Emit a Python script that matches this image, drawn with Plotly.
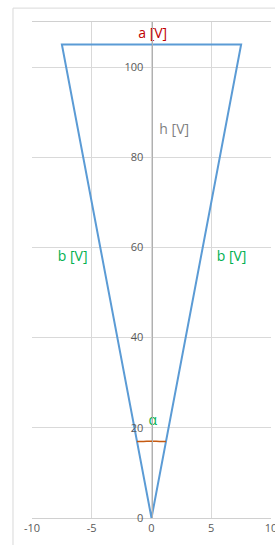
import plotly.graph_objects as go

# Triangle outline (apex at origin)
tri_x = [0, -7.5, 7.5, 0]
tri_y = [0, 105, 105, 0]

# Angle arc near apex
arc_x = [-1.21, -0.8, -0.4, 0.0, 0.4, 0.8, 1.21]
arc_y = [16.96, 16.98, 17.0, 17.0, 17.0, 16.98, 16.96]

# Text labels
lbl_text = ["a [V]", "h [V]", "b [V]", "b [V]", "α"]
lbl_x = [0.1, 1.9, -6.6, 6.7, 0.1]
lbl_y = [107.3, 86.0, 57.8, 57.8, 21.3]
lbl_color = ["#C00000", "#7F7F7F", "#00B050", "#00B050", "#00B050"]

x_ticks = [-10, -5, 0, 5, 10]
x_ticktext = ["-10", "-5", "0", "5", "10"]
y_ticks = [0, 20, 40, 60, 80, 100]
y_ticktext = ["0", "20", "40", "60", "80", "100"]

fig = go.Figure()
fig.add_trace(go.Scatter(x=tri_x, y=tri_y, mode="lines",
                         line=dict(color="#5B9BD5", width=2), hoverinfo="skip"))
fig.add_trace(go.Scatter(x=arc_x, y=arc_y, mode="lines",
                         line=dict(color="#C55A11", width=1.5, shape="spline"), hoverinfo="skip"))
fig.add_trace(go.Scatter(x=lbl_x, y=lbl_y, mode="text", text=lbl_text,
                         textfont=dict(color=lbl_color, size=14, family="Open Sans"),
                         hoverinfo="skip"))

fig.update_layout(
    width=275, height=545,
    margin=dict(l=32, r=4, t=22, b=27, autoexpand=False),
    paper_bgcolor="white", plot_bgcolor="white",
    showlegend=False,
    font=dict(family="Open Sans", color="#595959", size=11),
    xaxis=dict(range=[-10, 10], tickvals=x_ticks, ticktext=x_ticktext, showgrid=True,
               gridcolor="#D9D9D9", gridwidth=1, zeroline=False, showline=True,
               linecolor="#D0D0D0", mirror=True, ticks="", automargin=False,
               ticklabeloverflow="allow",
               tickfont=dict(size=11, color="#595959")),
    yaxis=dict(range=[0, 110], tickvals=y_ticks, ticktext=y_ticktext, showgrid=True,
               gridcolor="#D9D9D9", gridwidth=1, zeroline=False, showline=True,
               linecolor="#B0B0B0", anchor="free", position=0.5, ticks="outside",
               ticklen=6, automargin=False, tickcolor="rgba(0,0,0,0)",
               tickfont=dict(size=11, color="#595959")),
)

# Outer chart border
fig.add_shape(type="rect", xref="paper", yref="paper",
              x0=-0.0795, y0=-0.06, x1=1.03, y1=1.028,
              line=dict(color="#D9D9D9", width=1), fillcolor="rgba(0,0,0,0)", layer="below")

fig.write_html("out.html", config={"displayModeBar": False},
               post_script="document.body.style.margin='0px';document.body.style.overflow='hidden';")
